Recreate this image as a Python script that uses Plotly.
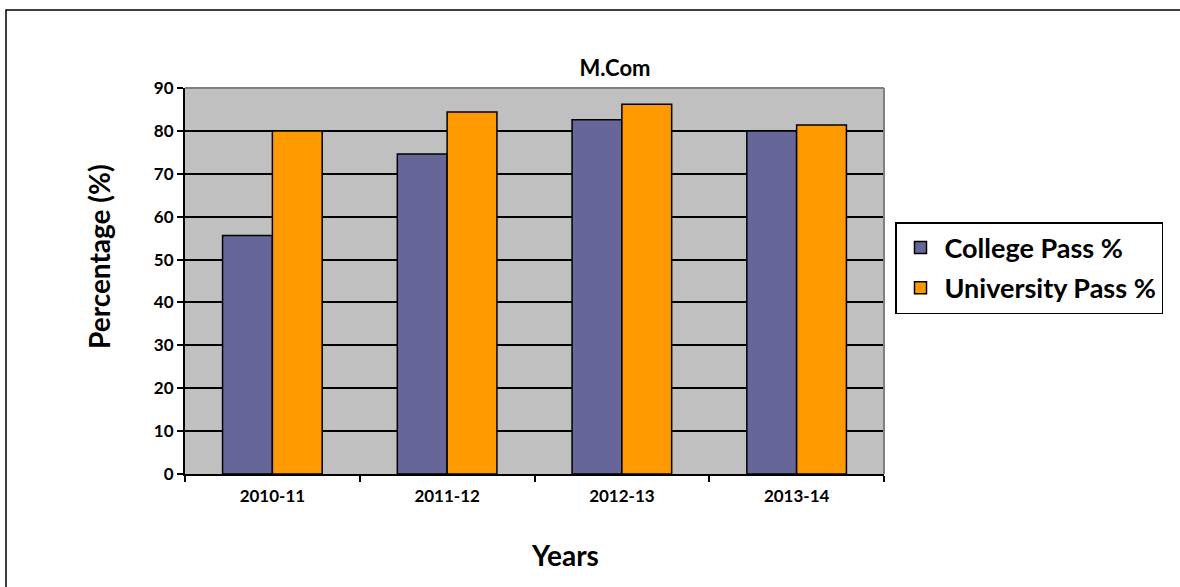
import plotly.graph_objects as go

years = ["2010-11", "2011-12", "2012-13", "2013-14"]
college_pass = [55.6, 74.6, 82.6, 80.0]
university_pass = [80.0, 84.4, 86.2, 81.4]

font_family = "Lato, Liberation Sans, sans-serif"

# plot area in pixels: x 185..884, y 88..474
fig = go.Figure()
fig.add_trace(go.Bar(
    x=years, y=college_pass, name="<b>College Pass %</b>", legendgroup="c",
    marker=dict(color="#666699", line=dict(color="black", width=1.5)),
))
fig.add_trace(go.Bar(
    x=years, y=university_pass, name="<b>University Pass %</b>", legendgroup="u",
    marker=dict(color="#FF9900", line=dict(color="black", width=1.5)),
))

fig.update_layout(
    width=1180, height=587,
    margin=dict(l=185, r=296, t=88, b=113, autoexpand=False),
    paper_bgcolor="white",
    plot_bgcolor="#C0C0C0",
    barmode="group",
    bargap=0.43,
    bargroupgap=0,
    font=dict(family=font_family, color="black"),
    title=dict(text="<b>M.Com</b>", x=615 / 1180, xanchor="center",
               y=1 - 68 / 587, yanchor="middle", font=dict(size=22)),
    legend=dict(
        x=(895 - 185) / 699, y=(474 - 222) / 386, xanchor="left", yanchor="top",
        bordercolor="black", borderwidth=1.5, bgcolor="white",
        font=dict(size=27), itemwidth=38,
        traceorder="grouped", tracegroupgap=2,
    ),
    xaxis=dict(
        type="category", automargin=False,
        tickfont=dict(size=17), tickprefix="<b>", ticksuffix="</b>",
        showline=True, linecolor="black", linewidth=2,
        ticks="outside", ticklen=6, tickwidth=1.5, tickcolor="black",
        tickson="boundaries", ticklabelstandoff=6,
    ),
    yaxis=dict(
        automargin=False,
        range=[0, 90], dtick=10,
        tickfont=dict(size=17), tickprefix="<b>", ticksuffix="</b>",
        showline=True, linecolor="black", linewidth=2,
        ticks="outside", ticklen=6, tickwidth=1.5, tickcolor="black",
        showgrid=True, gridcolor="black", gridwidth=1.5,
        zeroline=False,
    ),
)

# axis titles
fig.add_annotation(text="<b>Years</b>", xref="paper", yref="paper",
                   x=(565 - 185) / 699, y=(474 - 555) / 386,
                   xanchor="center", yanchor="middle",
                   showarrow=False, font=dict(size=28))
fig.add_annotation(text="<b>Percentage (%)</b>", xref="paper", yref="paper",
                   x=(99 - 185) / 699, y=(474 - 257) / 386, textangle=-90,
                   xanchor="center", yanchor="middle",
                   showarrow=False, font=dict(size=28))

# plot area border (top and right, grey)
fig.add_shape(type="line", xref="paper", yref="paper", x0=0, x1=1, y0=1, y1=1,
              line=dict(color="#808080", width=2))
fig.add_shape(type="line", xref="paper", yref="paper", x0=1, x1=1, y0=0, y1=1,
              line=dict(color="#808080", width=2))
# outer chart border (runs off the right and bottom edges)
fig.add_shape(type="rect", xref="paper", yref="paper",
              x0=(6 - 185) / 699, x1=(1190 - 185) / 699,
              y0=(474 - 600) / 386, y1=(474 - 10) / 386,
              line=dict(color="black", width=1.5))

fig.write_html("out.html", config={"displayModeBar": False},
               post_script="document.body.style.margin = '0';")
